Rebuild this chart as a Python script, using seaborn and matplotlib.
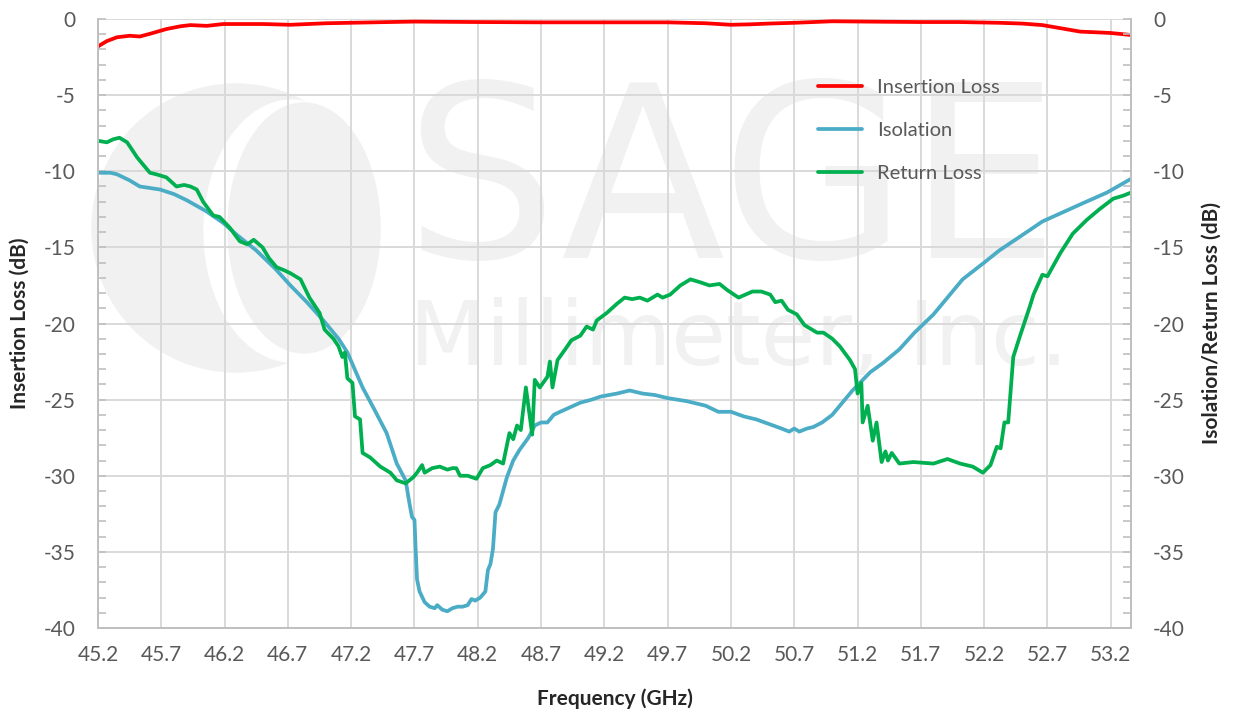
import matplotlib
matplotlib.use("Agg")
import matplotlib.pyplot as plt
import seaborn as sns
from matplotlib.patches import Circle, Ellipse
from matplotlib.ticker import MultipleLocator, FormatStrFormatter

# Insertion loss (red)
il_freq = [45.2, 45.27, 45.35, 45.45, 45.53, 45.62, 45.74, 45.85, 45.93, 46.06, 46.19, 46.5,
           46.72, 47.0, 47.5, 47.7, 48.2, 48.7, 49.2, 49.7, 50.0, 50.2, 50.35, 50.5, 50.7, 51.0,
           51.4, 51.7, 52.0, 52.32, 52.5, 52.66, 52.8, 52.96, 53.1, 53.2, 53.36]
il_db = [-1.8, -1.45, -1.2, -1.1, -1.15, -0.95, -0.66, -0.48, -0.4, -0.45, -0.33, -0.33,
         -0.38, -0.28, -0.2, -0.17, -0.2, -0.22, -0.22, -0.22, -0.28, -0.38, -0.35, -0.3, -0.25, -0.15,
         -0.18, -0.2, -0.2, -0.25, -0.3, -0.4, -0.6, -0.83, -0.88, -0.92, -1.05]

# Isolation (blue)
iso_freq = [45.2, 45.3, 45.35, 45.45, 45.53, 45.69, 45.8, 45.9, 46.05, 46.19, 46.3, 46.45, 46.6,
            46.72, 46.85, 46.98, 47.1, 47.17, 47.29, 47.38, 47.48, 47.56, 47.63, 47.66, 47.68, 47.70,
            47.71, 47.72, 47.74, 47.78, 47.82, 47.86, 47.88, 47.92, 47.96, 48.0, 48.04, 48.08, 48.12,
            48.15, 48.18, 48.22, 48.26, 48.28, 48.30, 48.32, 48.34, 48.37, 48.40, 48.43, 48.48, 48.53,
            48.6, 48.65, 48.7, 48.75, 48.8, 48.85, 48.93, 49.01, 49.1, 49.17, 49.3, 49.4, 49.5, 49.6,
            49.7, 49.85, 50.0, 50.1, 50.2, 50.3, 50.4, 50.5, 50.6, 50.66, 50.7, 50.74, 50.8, 50.85,
            50.92, 51.0, 51.08, 51.16, 51.23, 51.3, 51.4, 51.53, 51.65, 51.8, 51.92, 52.03, 52.2,
            52.32, 52.5, 52.66, 52.82, 52.98, 53.17, 53.36]
iso_db = [-10.1, -10.1, -10.2, -10.6, -11.0, -11.2, -11.5, -11.9, -12.6, -13.4, -14.2, -15.2, -16.4,
          -17.5, -18.6, -19.8, -21.0, -21.9, -24.2, -25.6, -27.2, -29.2, -30.3, -31.8, -32.7, -32.9,
          -35.0, -36.8, -37.6, -38.3, -38.6, -38.7, -38.5, -38.8, -38.9, -38.7, -38.6, -38.6, -38.5,
          -38.1, -38.2, -38.0, -37.6, -36.2, -35.8, -34.8, -32.4, -31.9, -31.0, -30.1, -29.0, -28.3,
          -27.5, -26.7, -26.5, -26.5, -26.0, -25.8, -25.5, -25.2, -25.0, -24.8, -24.6, -24.4, -24.6, -24.7,
          -24.9, -25.1, -25.4, -25.8, -25.8, -26.1, -26.3, -26.6, -26.9, -27.1, -26.9, -27.1, -26.9, -26.8,
          -26.5, -26.0, -25.2, -24.4, -23.8, -23.2, -22.6, -21.7, -20.6, -19.4, -18.2, -17.1, -16.0,
          -15.2, -14.2, -13.3, -12.7, -12.1, -11.4, -10.5]

# Return loss (green)
rl_freq = [45.2, 45.27, 45.32, 45.37, 45.43, 45.51, 45.61, 45.66, 45.74, 45.82, 45.88, 45.93, 45.98,
           46.03, 46.11, 46.16, 46.24, 46.32, 46.38, 46.43, 46.50, 46.55, 46.61, 46.67, 46.72, 46.8,
           46.87, 46.95, 46.99, 47.06, 47.1, 47.13, 47.15, 47.17, 47.21, 47.23, 47.27, 47.29, 47.35,
           47.43, 47.51, 47.56, 47.63, 47.69, 47.72, 47.76, 47.78, 47.84, 47.9, 47.96, 48.0, 48.03,
           48.06, 48.12, 48.19, 48.24, 48.3, 48.35, 48.4, 48.45, 48.48, 48.51, 48.54, 48.58, 48.63,
           48.65, 48.69, 48.75, 48.77, 48.79, 48.83, 48.89, 48.94, 49.01, 49.06, 49.11, 49.14, 49.22,
           49.3, 49.36, 49.42, 49.48, 49.54, 49.62, 49.66, 49.72, 49.8, 49.88, 49.96, 50.03, 50.11,
           50.17, 50.26, 50.37, 50.44, 50.51, 50.55, 50.6, 50.65, 50.72, 50.78, 50.88, 50.93, 51.0,
           51.06, 51.14, 51.18, 51.2, 51.23, 51.24, 51.28, 51.32, 51.35, 51.39, 51.42, 51.44, 51.47,
           51.53, 51.64, 51.8, 51.91, 52.01, 52.11, 52.19, 52.25, 52.3, 52.33, 52.36, 52.39, 52.43,
           52.48, 52.56, 52.59, 52.66, 52.7, 52.8, 52.9, 53.01, 53.11, 53.22, 53.3, 53.36]
rl_db = [-8.0, -8.1, -7.9, -7.8, -8.1, -9.1, -10.1, -10.2, -10.4, -11.0, -10.9, -11.0, -11.2,
         -12.0, -12.9, -13.0, -13.7, -14.6, -14.8, -14.5, -15.0, -15.7, -16.3, -16.5, -16.7, -17.1,
         -18.3, -19.3, -20.4, -21.0, -21.5, -22.2, -21.9, -23.6, -23.9, -26.1, -26.3, -28.5, -28.8,
         -29.4, -29.8, -30.3, -30.5, -30.1, -29.8, -29.3, -29.8, -29.5, -29.4, -29.6, -29.5, -29.5,
         -30.0, -30.0, -30.2, -29.5, -29.3, -29.0, -29.2, -27.2, -27.6, -26.7, -27.0, -24.2, -27.3,
         -23.7, -24.2, -23.5, -22.5, -24.2, -22.4, -21.7, -21.1, -20.8, -20.2, -20.4, -19.8, -19.3,
         -18.7, -18.3, -18.4, -18.3, -18.5, -18.1, -18.3, -18.1, -17.5, -17.1, -17.3, -17.5, -17.4,
         -17.8, -18.3, -17.9, -17.9, -18.1, -18.6, -18.5, -19.1, -19.4, -20.1, -20.6, -20.6, -21.0,
         -21.5, -22.4, -23.0, -24.6, -23.9, -26.5, -25.4, -27.7, -26.5, -29.1, -28.4, -29.0, -28.5,
         -29.2, -29.1, -29.2, -28.9, -29.2, -29.4, -29.8, -29.3, -28.1, -28.2, -26.5, -26.5, -22.2,
         -20.9, -18.9, -18.1, -16.8, -16.9, -15.4, -14.1, -13.2, -12.5, -11.8, -11.6, -11.4]

sns.set_style("white")
plt.rcParams['font.family'] = ['Lato', 'DejaVu Sans']
plt.rcParams['axes.unicode_minus'] = False

fig = plt.figure(figsize=(12.37, 7.13), dpi=100)
ax = fig.add_axes([98 / 1237, 1 - 628 / 713, 1033 / 1237, 609 / 713])

wm = '#f1f1f1'
# faint company watermark behind the data
logo = Circle((2.36, 4.85), 1.44, transform=fig.dpi_scale_trans, color=wm, zorder=0.1, clip_on=False)
ax.add_patch(logo)
cut = Ellipse((2.92, 4.82), 1.76, 2.62, transform=fig.dpi_scale_trans, color='white', zorder=0.15, clip_on=False)
ax.add_patch(cut)
cut.set_clip_path(logo)
inner = Ellipse((3.04, 4.85), 1.52, 2.50, transform=fig.dpi_scale_trans, color=wm, zorder=0.2, clip_on=False)
ax.add_patch(inner)
inner.set_clip_path(logo)
ax.text(732 / 1237, 1 - 258 / 713, 'SAGE', transform=fig.transFigure, ha='center', va='baseline',
        fontsize=173, family='DejaVu Sans', color=wm, zorder=0.1)
ax.text(739 / 1237, 1 - 365 / 713, 'Millimeter, Inc.', transform=fig.transFigure, ha='center',
        va='baseline', fontsize=64, family='DejaVu Sans', color=wm, zorder=0.1)

sns.lineplot(x=il_freq, y=il_db, ax=ax, color='#ff0000', lw=2.7, label='Insertion Loss')
sns.lineplot(x=iso_freq, y=iso_db, ax=ax, color='#4bacc6', lw=2.7, label='Isolation')
sns.lineplot(x=rl_freq, y=rl_db, ax=ax, color='#00b050', lw=2.7, label='Return Loss')

ax.set_xlim(45.2, 53.36)
ax.set_ylim(-40, 0)
ax.xaxis.set_major_locator(MultipleLocator(0.5, offset=0.2))
ax.xaxis.set_minor_locator(MultipleLocator(0.1))
ax.xaxis.set_major_formatter(FormatStrFormatter('%.1f'))
ax.yaxis.set_major_locator(MultipleLocator(5))
ax.yaxis.set_minor_locator(MultipleLocator(1))
ax.set_axisbelow(True)
ax.grid(True, which='major', color='#d9d9d9', lw=1.4)

for s in ['left', 'bottom', 'right']:
    ax.spines[s].set_visible(True)
    ax.spines[s].set_color('#bfbfbf')
    ax.spines[s].set_linewidth(1.4)
ax.spines['top'].set_visible(False)

ax.tick_params(which='both', direction='in', color='#bfbfbf', width=1.2, length=6,
               labelcolor='#595959', labelsize=15)
ax.tick_params(axis='y', pad=16)
ax.tick_params(axis='x', pad=12)
ax.set_xlabel('Frequency (GHz)', fontsize=15, fontweight='bold', labelpad=17)
ax.set_ylabel('Insertion Loss (dB)', fontsize=15, fontweight='bold', labelpad=10)

ax2 = ax.twinx()
ax2.set_ylim(-40, 0)
ax2.yaxis.set_major_locator(MultipleLocator(5))
ax2.yaxis.set_minor_locator(MultipleLocator(1))
for s in ax2.spines.values():
    s.set_visible(False)
ax2.tick_params(which='both', direction='in', color='#bfbfbf', width=1.2, length=6,
                labelcolor='#595959', labelsize=15, pad=16)
ax2.set_ylabel('Isolation/Return Loss (dB)', fontsize=15, fontweight='bold', labelpad=12)

ax.legend(loc='upper left', bbox_to_anchor=(0.697, 0.902), frameon=False, fontsize=14.5,
          handlelength=2.2, handletextpad=0.75, labelspacing=1.3, borderpad=0, borderaxespad=0,
          labelcolor='#595959')

fig.savefig('out.png', dpi=100)
